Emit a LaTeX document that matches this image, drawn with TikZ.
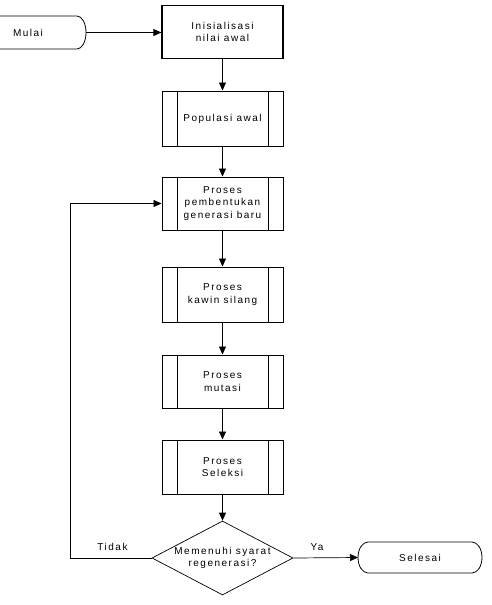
\documentclass[tikz,border=0pt]{standalone}
\usepackage{fontspec}
\setmainfont{Liberation Sans}[LetterSpace=15]
\usetikzlibrary{shapes.geometric,arrows.meta}
\tikzset{
  x=1pt,y=-1pt,
  every node/.style={font=\fontsize{10}{12.5}\selectfont,align=center,inner sep=0pt},
  plainbox/.style={draw,line width=1.2pt,minimum width=121pt,minimum height=54pt},
  procbox/.style={draw,line width=1pt,minimum width=121pt,minimum height=54pt,
    path picture={
      \draw[line width=0.7pt] ([xshift=15pt]path picture bounding box.north west) -- ([xshift=15pt]path picture bounding box.south west);
      \draw[line width=0.7pt] ([xshift=-15pt]path picture bounding box.north east) -- ([xshift=-15pt]path picture bounding box.south east);
    }},
  decbox/.style={draw,diamond,line width=0.7pt,minimum width=141pt,minimum height=74pt,aspect=1.9},
  conn/.style={line width=0.7pt,-{Triangle[length=8pt,width=7pt]}},
  lbl/.style={font=\fontsize{10}{12.5}\selectfont}
}
\begin{document}
\begin{tikzpicture}
\useasboundingbox (0,0) rectangle (492,605);
\fill[white] (0,0) rectangle (492,605);
% terminators
\draw[line width=0.8pt] (0,16) -- (77,16) arc[start angle=-90,end angle=90,x radius=9,y radius=16.5] -- (0,49);
\node (mulai) at (28,33) {Mulai};
\coordinate (mulaiR) at (86,32.5);
\draw[line width=0.8pt] (368,542) -- (472,542) arc[start angle=-90,end angle=90,x radius=10,y radius=15.5] -- (368,573) arc[start angle=90,end angle=270,x radius=10,y radius=15.5] -- cycle;
\node (selesai) at (420,557.5) {Selesai};
\coordinate (selesaiL) at (358,557.5);
% boxes
\node[plainbox,minimum height=53pt] (init) at (222.5,32) {Inisialisasi\\ nilai awal};
\node[procbox,minimum height=55pt] (pop) at (222.5,118.5) {Populasi awal};
\node[procbox,minimum height=53pt] (gen) at (222.5,203.5) {Proses\\pembentukan\\generasi baru};
\node[procbox,minimum height=55pt] (kawin) at (222.5,294.5) {Proses\\kawin silang};
\node[procbox,minimum height=53pt] (mut) at (222.5,381.5) {Proses\\mutasi};
\node[procbox,minimum height=54pt] (sel) at (222.5,467) {Proses\\Seleksi};
\node[decbox] (dec) at (222.5,558) {Memenuhi syarat\\regenerasi?};
% connectors
\draw[conn] (mulaiR) -- (init.west |- mulaiR);
\draw[conn] (init) -- (pop);
\draw[conn] (pop) -- (gen);
\draw[conn] (gen) -- (kawin);
\draw[conn] (kawin) -- (mut);
\draw[conn] (mut) -- (sel);
\draw[conn] (sel) -- (dec);
\draw[conn] (dec.east) -- (selesaiL);
\coordinate (loopB) at (70,558);
\coordinate (loopT) at (70,203.5);
\draw[conn] (dec.west) -- (loopB) -- (loopT) -- (gen.west);
\node[lbl] (tidak) at (112.5,547) {Tidak};
\node[lbl] (ya) at (317,547) {Ya};
\end{tikzpicture}
\end{document}
